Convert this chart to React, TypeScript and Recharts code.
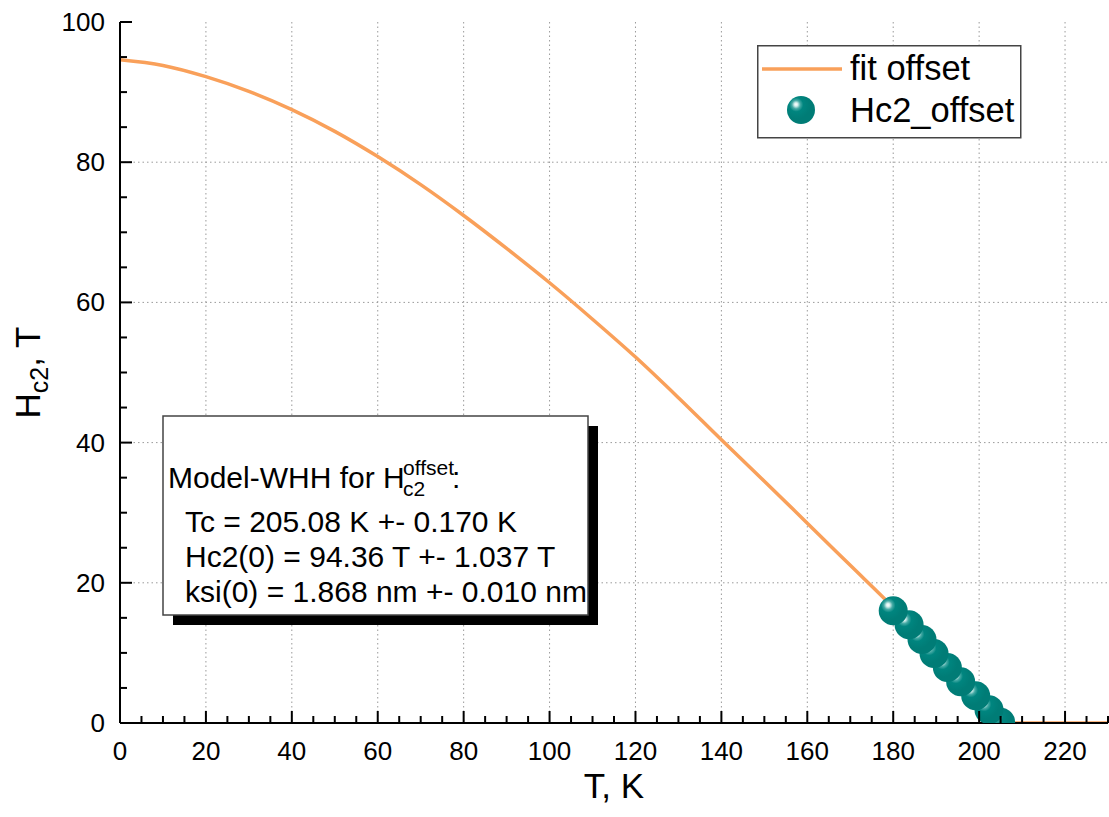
import { CartesianGrid, ComposedChart, Legend, Line, Scatter, XAxis, YAxis } from "recharts";

const FONT = "'Liberation Sans', Arial, sans-serif";
const ORANGE = "#f9a05a";

// fit curve (T in K, Hc2 in T)
const FIT_T = [0, 10, 20, 30, 40, 50, 60, 70, 80, 90, 100, 110, 120, 130, 140, 150, 160, 170, 180, 190, 200, 205, 215, 230];
const FIT_H = [94.6, 93.8, 92.2, 90.1, 87.5, 84.4, 80.8, 76.8, 72.4, 67.7, 62.8, 57.6, 52.2, 46.4, 40.4, 34.5, 28.5, 22.5, 16.5, 10.0, 3.4, 0, 0, 0];

// measured points
const PT_T = [180, 183.7, 186.7, 189.5, 192.6, 195.7, 199.2, 202.3, 205];
const PT_H = [16.0, 14.0, 11.9, 9.9, 7.9, 5.9, 3.9, 1.9, 0.1];

const X_TICKS = [0, 5, 10, 15, 20, 25, 30, 35, 40, 45, 50, 55, 60, 65, 70, 75, 80, 85, 90, 95, 100, 105, 110, 115, 120, 125, 130, 135, 140, 145, 150, 155, 160, 165, 170, 175, 180, 185, 190, 195, 200, 205, 210, 215, 220, 225, 230];
const Y_TICKS = [0, 5, 10, 15, 20, 25, 30, 35, 40, 45, 50, 55, 60, 65, 70, 75, 80, 85, 90, 95, 100];
const X_GRID = [20, 40, 60, 80, 100, 120, 140, 160, 180, 200, 220];
const Y_GRID = [20, 40, 60, 80];

const fitData = FIT_T.map((t, i) => ({ t, h: FIT_H[i] }));
// reversed so the first point ends up on top, like the original
const pointData = PT_T.map((t, i) => ({ t, h: PT_H[i] })).reverse();

const isMajor = (v: number) => v % 20 === 0;

function BottomTick({ x, y, payload }: any) {
  const v = payload.value;
  return (
    <g>
      <line x1={x} x2={x} y1={y} y2={y - (isMajor(v) ? 12 : 7)} stroke="#000" strokeWidth={2} />
      {isMajor(v) && v <= 220 && (
        <text x={x} y={y + 37} textAnchor="middle" fontSize={26} fontFamily={FONT} fill="#000">
          {v}
        </text>
      )}
    </g>
  );
}

function TopTick({ x, y, payload }: any) {
  const v = payload.value;
  return <line x1={x} x2={x} y1={y} y2={y + (isMajor(v) ? 12 : 7)} stroke="#000" strokeWidth={2} />;
}

function LeftTick({ x, y, payload }: any) {
  const v = payload.value;
  return (
    <g>
      <line x1={x} x2={x + (isMajor(v) ? 12 : 7)} y1={y} y2={y} stroke="#000" strokeWidth={2} />
      {isMajor(v) && (
        <text x={x - 15} y={y + 9} textAnchor="end" fontSize={26} fontFamily={FONT} fill="#000">
          {v}
        </text>
      )}
    </g>
  );
}

function RightTick({ x, y, payload }: any) {
  const v = payload.value;
  return <line x1={x} x2={x - (isMajor(v) ? 12 : 7)} y1={y} y2={y} stroke="#000" strokeWidth={2} />;
}

function BallDefs() {
  return (
    <defs>
      <radialGradient id="ball" cx="0.34" cy="0.32" r="0.5" fx="0.32" fy="0.3">
        <stop offset="0" stopColor="#ffffff" />
        <stop offset="0.12" stopColor="#d6f0ee" />
        <stop offset="0.3" stopColor="#45aaa5" />
        <stop offset="0.5" stopColor="#00857f" />
        <stop offset="1" stopColor="#007c76" />
      </radialGradient>
    </defs>
  );
}

function Ball({ cx, cy }: any) {
  return (
    <g>
      <BallDefs />
      <circle cx={cx} cy={cy} r={14.5} fill="url(#ball)" />
    </g>
  );
}

function LegendBox() {
  return (
    <svg width={265} height={94} style={{ display: "block" }}>
      <BallDefs />
      <rect x={0.75} y={0.75} width={263} height={92} fill="#fff" stroke="#444" strokeWidth={1.5} />
      <line x1={5} x2={85} y1={24} y2={24} stroke={ORANGE} strokeWidth={3.5} />
      <text x={93} y={35} fontSize={34.5} fontFamily={FONT} fill="#000">
        fit offset
      </text>
      <circle cx={44} cy={65} r={14} fill="url(#ball)" />
      <text x={93} y={77} fontSize={34.5} fontFamily={FONT} fill="#000">
        Hc2_offset
      </text>
    </svg>
  );
}

function XTitle({ viewBox }: any) {
  return (
    <text x={viewBox.x + viewBox.width / 2} y={viewBox.y + 75} textAnchor="middle" fontSize={35} fontFamily={FONT} fill="#000">
      T, K
    </text>
  );
}

function YTitle({ viewBox }: any) {
  const cx = 40;
  const cy = viewBox.y + viewBox.height / 2;
  return (
    <text x={cx} y={cy} transform={`rotate(-90, ${cx}, ${cy})`} textAnchor="middle" fontSize={35} fontFamily={FONT} fill="#000">
      H
      <tspan fontSize={25} dy={8}>
        c2
      </tspan>
      <tspan dy={-8}>, T</tspan>
    </text>
  );
}

function ModelBox() {
  return (
    <svg width={1109} height={817} style={{ position: "absolute", left: 0, top: 0, pointerEvents: "none" }}>
      <rect x={173} y={426} width={425} height={199} fill="#000" />
      <rect x={163} y={416} width={425} height={199} fill="#fff" stroke="#444" strokeWidth={1.5} />
      <g fontFamily={FONT} fontSize={30} fill="#000">
        <text x={168} y={488}>Model-WHH for H</text>
        <text x={403} y={475} fontSize={21}>offset</text>
        <text x={403} y={496} fontSize={21}>c2</text>
        <text x={452} y={488}>:</text>
        <text x={185} y={532}>Tc = 205.08 K +- 0.170 K</text>
        <text x={185} y={567}>Hc2(0) = 94.36 T +- 1.037 T</text>
        <text x={185} y={602}>ksi(0) = 1.868 nm +- 0.010 nm</text>
      </g>
    </svg>
  );
}

export default function App() {
  return (
    <div style={{ position: "absolute", left: 0, top: 0, width: 1109, height: 817, background: "#fff" }}>
      <ComposedChart width={1109} height={817} margin={{ top: 22, right: 1, bottom: 0, left: 0 }}>
        <CartesianGrid
          stroke="#9a9a9a"
          strokeDasharray="1.5 3"
          xAxisId="bottom"
          yAxisId="left"
          verticalValues={X_GRID}
          horizontalValues={Y_GRID}
        />
        <XAxis
          xAxisId="bottom"
          dataKey="t"
          type="number"
          domain={[0, 230]}
          ticks={X_TICKS}
          interval={0}
          height={94}
          tickSize={0}
          tickMargin={0}
          tickLine={false}
          tick={<BottomTick />}
          axisLine={{ stroke: "#000", strokeWidth: 2 }}
          allowDataOverflow
          label={{ content: <XTitle /> }}
        />
        <XAxis
          xAxisId="top"
          orientation="top"
          type="number"
          domain={[0, 230]}
          ticks={X_TICKS}
          interval={0}
          height={0}
          tickSize={0}
          tickMargin={0}
          tickLine={false}
          tick={<TopTick />}
          axisLine={{ stroke: "#000", strokeWidth: 2 }}
          allowDataOverflow
        />
        <YAxis
          yAxisId="left"
          dataKey="h"
          type="number"
          domain={[0, 100]}
          ticks={Y_TICKS}
          interval={0}
          width={120}
          tickSize={0}
          tickMargin={0}
          tickLine={false}
          tick={<LeftTick />}
          axisLine={{ stroke: "#000", strokeWidth: 2 }}
          allowDataOverflow
          label={{ content: <YTitle /> }}
        />
        <YAxis
          yAxisId="right"
          orientation="right"
          type="number"
          domain={[0, 100]}
          ticks={Y_TICKS}
          interval={0}
          width={0}
          tickSize={0}
          tickMargin={0}
          tickLine={false}
          tick={<RightTick />}
          axisLine={{ stroke: "#000", strokeWidth: 2 }}
          allowDataOverflow
        />
        <Line
          xAxisId="bottom"
          yAxisId="left"
          data={fitData}
          dataKey="h"
          type="monotone"
          stroke={ORANGE}
          strokeWidth={3.5}
          dot={false}
          activeDot={false}
          name="fit offset"
          isAnimationActive={false}
        />
        <Scatter
          xAxisId="bottom"
          yAxisId="left"
          data={pointData}
          dataKey="h"
          name="Hc2_offset"
          shape={<Ball />}
          isAnimationActive={false}
        />
        <Legend
          layout="vertical"
          align="center"
          verticalAlign="middle"
          wrapperStyle={{ position: "absolute", left: 757, top: 45, width: 265, height: 94 }}
          content={() => <LegendBox />}
        />
      </ComposedChart>
      <ModelBox />
    </div>
  );
}
